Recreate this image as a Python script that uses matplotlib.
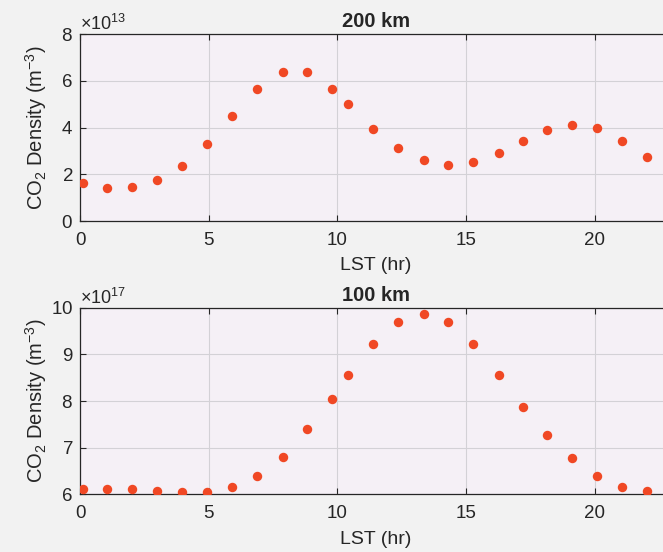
import numpy as np
import matplotlib
matplotlib.use("Agg")
import matplotlib.pyplot as plt

plt.rcParams['font.family'] = ['Liberation Sans', 'DejaVu Sans']
plt.rcParams['mathtext.fontset'] = 'custom'
plt.rcParams['mathtext.rm'] = 'Liberation Sans'
plt.rcParams['mathtext.it'] = 'Liberation Sans:italic'

# local solar time of each sample (hr)
lst = [0.1, 1.06, 2.0, 3.0, 3.97, 4.95, 5.9, 6.86, 7.88, 8.82, 9.77, 10.4,
       11.39, 12.34, 13.35, 14.31, 15.25, 16.26, 17.2, 18.15, 19.13, 20.1,
       21.05, 22.04]

# CO2 density at 200 km (m^-3)
co2_200 = [1.64e13, 1.40e13, 1.46e13, 1.76e13, 2.36e13, 3.30e13, 4.49e13,
           5.66e13, 6.37e13, 6.37e13, 5.66e13, 5.01e13, 3.96e13, 3.13e13,
           2.60e13, 2.41e13, 2.53e13, 2.91e13, 3.43e13, 3.91e13, 4.13e13,
           3.97e13, 3.43e13, 2.73e13]

# CO2 density at 100 km (m^-3)
co2_100 = [6.11e17, 6.11e17, 6.11e17, 6.08e17, 6.05e17, 6.05e17, 6.16e17,
           6.40e17, 6.81e17, 7.39e17, 8.05e17, 8.56e17, 9.22e17, 9.69e17,
           9.87e17, 9.69e17, 9.22e17, 8.56e17, 7.88e17, 7.27e17, 6.77e17,
           6.39e17, 6.16e17, 6.08e17]

DOT = '#f04824'
INK = '#262626'

fig = plt.figure(figsize=(6.63, 5.52), dpi=100, facecolor='#f2f2f2')

panels = [
    ("200 km", co2_200, (0, 8e13), np.arange(0, 9e13, 2e13), 13, [0.1207, 0.5996, 0.893, 0.3383]),
    ("100 km", co2_100, (6e17, 10e17), np.arange(6e17, 11e17, 1e17), 17, [0.1207, 0.1045, 0.893, 0.3381]),
]

for title, dens, ylim, yticks, expo, pos in panels:
    ax = fig.add_axes(pos)
    ax.set_facecolor('#f5f0f6')
    ax.plot(lst, dens, 'o', color=DOT, markersize=6.8, markeredgewidth=0, zorder=3)
    ax.set_xlim(0, 23)
    ax.set_ylim(*ylim)
    ax.set_xticks([0, 5, 10, 15, 20])
    ax.set_yticks(yticks)
    ax.ticklabel_format(axis='y', style='sci', scilimits=(expo, expo), useMathText=True)
    ax.yaxis.get_offset_text().set_fontsize(13)
    ax.yaxis.get_offset_text().set_color(INK)
    ax.grid(True, color='#d3d1d6', linewidth=0.8)
    ax.set_axisbelow(True)
    ax.tick_params(direction='in', top=True, right=True, length=4, width=0.8,
                   labelsize=13.5, colors=INK)
    ax.tick_params(axis='x', pad=8)
    ax.tick_params(axis='y', pad=5)
    for s in ax.spines.values():
        s.set_color(INK)
        s.set_linewidth(0.9)
    ax.set_title(title, fontsize=14.5, fontweight='bold', color=INK, pad=5)
    ax.set_xlabel('LST (hr)', fontsize=14, color=INK, labelpad=6)
    ax.set_ylabel(r'CO$_2$ Density (m$^{-3}$)', fontsize=14.5, color=INK)
    ax.yaxis.set_label_coords(-0.052, 0.5)

fig.savefig('out.png', dpi=100, facecolor=fig.get_facecolor())
